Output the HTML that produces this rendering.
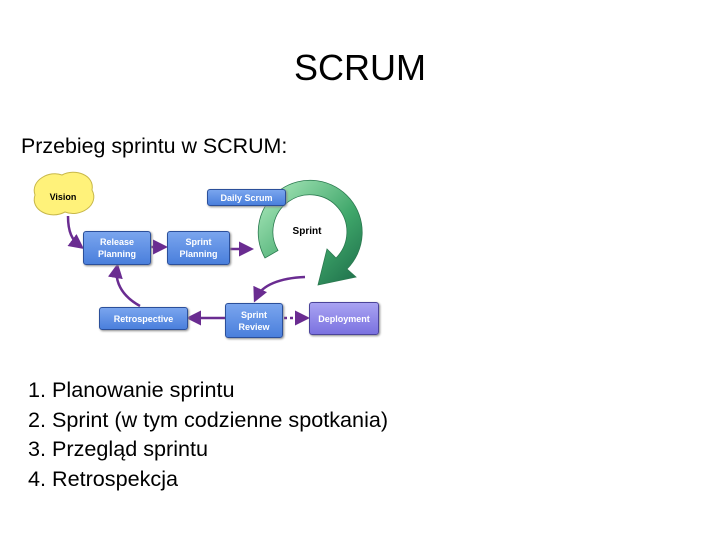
<!DOCTYPE html>
<html><head><meta charset="utf-8"><style>
body{margin:0;width:720px;height:540px;background:#fff;font-family:"Liberation Sans",sans-serif;position:relative;overflow:hidden}
.t{position:absolute;white-space:nowrap;color:#000}
.b{position:absolute;background:linear-gradient(#7aa5ee,#4a7fdc);border:1px solid #2b4f9a;border-radius:3px;color:#fff;font:bold 9px "Liberation Sans",sans-serif;display:flex;align-items:center;justify-content:center;text-align:center;line-height:12px;box-shadow:1px 1px 2px #888}
</style></head><body>
<div class="t" style="left:0;width:720px;text-align:center;top:47px;font-size:36px">SCRUM</div>
<div class="t" style="left:21px;top:134px;font-size:21.4px">Przebieg sprintu w SCRUM:</div>
<div class="t" style="left:28px;top:375px;font-size:21.6px;line-height:29.5px">1. Planowanie sprintu<br>2. Sprint (w tym codzienne spotkania)<br>3. Przegląd sprintu<br>4. Retrospekcja</div>
<svg style="position:absolute;left:0;top:0" width="720" height="540">
<defs>
<linearGradient id="g" x1="0" y1="0" x2="1" y2="1"><stop offset="0" stop-color="#b6f0c4"/><stop offset="0.6" stop-color="#3fa66a"/><stop offset="1" stop-color="#1b6b48"/></linearGradient>
<marker id="a" markerWidth="6" markerHeight="6" refX="4" refY="3" orient="auto"><path d="M0,0L6,3L0,6z" fill="#6a2c91"/></marker>
</defs>
<path d="M35,195 C30,180 50,170 62,175 C75,168 95,175 92,190 C100,205 80,218 65,212 C50,220 30,210 35,195Z" fill="#fff27a" stroke="#c8b84a"/>
<text x="63" y="200" font-size="9" font-weight="bold" text-anchor="middle" font-family="Liberation Sans">Vision</text>
<path d="M265,258 A52,52 0 1 1 347,269 L356,277 L318,285 L327,249 L336,258 A37,37 0 1 0 278,250.5 Z" fill="url(#g)" stroke="#2c7a50" stroke-width="0.8"/>
<text x="307" y="234" font-size="10" font-weight="bold" text-anchor="middle" font-family="Liberation Sans">Sprint</text>
<g stroke="#6a2c91" stroke-width="2.5" fill="none" marker-end="url(#a)">
<path d="M68,216 C68,232 72,240 80,246"/>
<line x1="150" y1="247" x2="163" y2="247"/>
<line x1="229" y1="249" x2="249" y2="249"/>
<path d="M305,277 C280,278 262,285 256,298"/>
<line x1="225" y1="318" x2="191" y2="318"/>
<path d="M140,306 C120,295 115,280 117,268"/>
</g>
<path d="M284,318 L305,318" stroke="#6a2c91" stroke-width="2.5" stroke-dasharray="3,3" marker-end="url(#a)"/>
</svg>
<div class="b" style="left:207px;top:189px;width:77px;height:15px">Daily Scrum</div>
<div class="b" style="left:83px;top:231px;width:66px;height:32px">Release<br>Planning</div>
<div class="b" style="left:167px;top:231px;width:61px;height:32px">Sprint<br>Planning</div>
<div class="b" style="left:99px;top:307px;width:87px;height:21px">Retrospective</div>
<div class="b" style="left:225px;top:303px;width:56px;height:33px">Sprint<br>Review</div>
<div class="b" style="left:309px;top:302px;width:68px;height:31px;background:linear-gradient(#a9a3f2,#7b72e0);border-color:#4b449a">Deployment</div>
</body></html>
